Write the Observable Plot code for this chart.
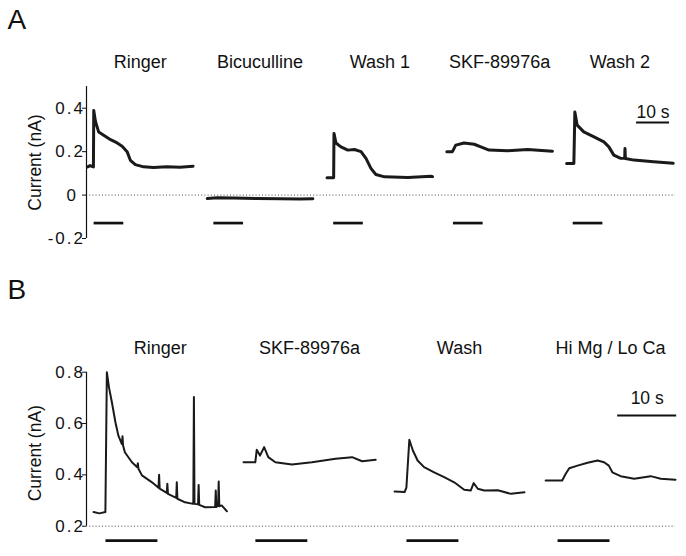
<!DOCTYPE html>
<html><head><meta charset="utf-8">
<script src="https://cdn.jsdelivr.net/npm/d3@7"></script>
<script src="https://cdn.jsdelivr.net/npm/@observablehq/plot@0.6"></script>
<style>
html,body{margin:0;padding:0;background:#fff;}
#root{position:relative;width:686px;height:556px;overflow:hidden;background:#fff;}
#root > svg{position:absolute;left:0;}
</style></head><body><div id="root"></div>
<script>
// ---------- Panel A data (time in s from trace start, current in nA) ----------
const titlesA = ["Ringer", "Bicuculline", "Wash 1", "SKF-89976a", "Wash 2"];
const aRinger = [[0,0.13],[0.8,0.136],[1.8,0.13],[1.9,0.39],[2.4,0.34],[3.4,0.29],[4.9,0.275],[7,0.255],[9,0.24],[10.5,0.225],[12,0.2],[13,0.16],[14.5,0.14],[17,0.13],[20,0.127],[24,0.13],[28,0.128],[32,0.133]];
const aBic = [[0,-0.016],[3,-0.012],[8,-0.013],[15,-0.016],[22,-0.017],[28,-0.018],[32,-0.017]];
const aWash1 = [[0,0.08],[2.0,0.08],[2.1,0.284],[2.7,0.24],[4.2,0.222],[6.3,0.207],[8.3,0.21],[10.3,0.2],[11.8,0.169],[13.3,0.123],[14.8,0.095],[17.4,0.084],[24.5,0.081],[31.5,0.087],[32,0.085]];
const aSkf = [[0,0.2],[1.7,0.2],[2.7,0.23],[5.2,0.24],[8.3,0.234],[10.3,0.222],[12.8,0.207],[18.4,0.204],[24.5,0.21],[32,0.202]];
const aWash2 = [[0,0.145],[2.2,0.145],[2.5,0.383],[3.2,0.322],[5.2,0.291],[8.3,0.268],[11.3,0.245],[12.8,0.222],[14.3,0.184],[16.4,0.169],[17.6,0.17],[17.7,0.215],[17.8,0.168],[20.4,0.161],[26.4,0.153],[32.3,0.146]];
const ticksA = [-0.2, 0, 0.2, 0.4];

// ---------- Panel B data ----------
const titlesB = ["Ringer", "SKF-89976a", "Wash", "Hi Mg / Lo Ca"];
const bRinger = [[0,0.255],[1.0,0.25],[2.0,0.255],[2.25,0.80],[2.6,0.742],[3.1,0.683],[3.7,0.605],[4.2,0.553],[4.8,0.52],[4.9,0.55],[5.0,0.514],[5.3,0.488],[6.5,0.449],[7.4,0.43],[7.5,0.445],[7.6,0.424],[8.2,0.398],[9.9,0.371],[11.0,0.35],[11.1,0.40],[11.2,0.346],[12.4,0.33],[12.5,0.365],[12.6,0.326],[14.0,0.31],[14.1,0.371],[14.2,0.307],[15.5,0.293],[16.9,0.287],[17.0,0.703],[17.1,0.287],[17.7,0.285],[17.8,0.361],[17.9,0.283],[18.9,0.274],[20.6,0.275],[20.7,0.339],[20.8,0.275],[21.1,0.28],[21.2,0.374],[21.3,0.278],[21.7,0.281],[22.6,0.258]];
const bSkf = [[0,0.449],[2.0,0.449],[2.25,0.498],[2.8,0.475],[3.5,0.508],[4.2,0.469],[5.4,0.449],[8.2,0.44],[11.6,0.449],[15.6,0.463],[18.4,0.469],[20.1,0.453],[22.4,0.459]];
const bWash = [[0,0.335],[1.7,0.333],[2.0,0.35],[2.5,0.537],[3.1,0.495],[3.9,0.456],[5.0,0.43],[6.7,0.41],[8.4,0.391],[10.1,0.371],[11.8,0.342],[12.9,0.339],[13.4,0.368],[14.1,0.346],[15.2,0.339],[17.5,0.34],[19.7,0.326],[22.0,0.332]];
const bHimg = [[0,0.378],[2.8,0.378],[3.4,0.404],[4.0,0.426],[5.4,0.436],[7.1,0.447],[8.8,0.456],[9.9,0.449],[10.7,0.436],[11.3,0.41],[12.7,0.395],[15.0,0.385],[17.8,0.395],[19.5,0.385],[22.0,0.381]];
const ticksB = [0.2, 0.4, 0.6, 0.8];

// stimulus (application) timing, s from trace start
const stimOnA = 2.0, stimDurA = 9;
const stimOnB = 2.1, stimDurB = 8.8;

// ---------- layout ----------
const FONT = '"Liberation Sans", Arial, Helvetica, sans-serif';
const offA = [0.3, 36.6, 72.9, 109.2, 145.5];   // trace start on shared time axis
const offB = [1.2, 26.6, 52.2, 77.8];

function rows(traces, offs) {
  return traces.flatMap((tr, k) => tr.map(([t, i]) => ({trace: k, t: offs[k] + t, i})));
}
const root = document.getElementById("root");

function panel({traces, offs, titles, ticks, yDomain, xMax, height, top, mTop, mBottom,
                stimOn, stimDur, stimY, titleY, barY, barX, barTextY, letter, sw, labelDy}) {
  const data = rows(traces, offs);
  const stim = offs.map(o => ({x1: o + stimOn, x2: o + stimOn + stimDur}));
  const nonZero = ticks.filter(d => d !== 0);
  const hasZero = ticks.includes(0);
  const p = Plot.plot({
    width: 686, height, marginLeft: 86, marginRight: 11, marginTop: mTop, marginBottom: mBottom,
    x: {domain: [0, xMax], axis: null, label: null},
    y: {domain: yDomain, axis: null, label: null},
    style: {fontFamily: FONT, fontSize: "17px", color: "#111", background: "transparent", overflow: "visible"},
    marks: [
      Plot.ruleY([yDomain[0] < 0 ? 0 : yDomain[0]], {x1: 0, x2: xMax, stroke: "#444", strokeDasharray: "1,2.2", strokeWidth: 1}),
      Plot.ruleX([0], {y1: yDomain[0], y2: yDomain[1], stroke: "#111", strokeWidth: 1.2}),
      Plot.axisY({ticks, tickSize: 4, tickFormat: () => "", label: null}),
      Plot.axisY({ticks: nonZero, tickSize: 0, tickPadding: 1.5, tickFormat: d => String(d), label: null}),
      ...(hasZero ? [Plot.axisY({ticks: [0], tickSize: 0, tickPadding: 1.5, dx: -7, tickFormat: d => String(d), label: null})] : []),
      Plot.text(["Current (nA)"], {frameAnchor: "left", rotate: -90, dx: -51.5, dy: labelDy, textAnchor: "middle", fontSize: 17.5}),
      Plot.line(data, {x: "t", y: "i", z: "trace", stroke: "#1a1a1a", strokeWidth: sw, strokeLinejoin: "round"}),
      Plot.ruleY(stim, {x1: "x1", x2: "x2", y: stimY, stroke: "#111", strokeWidth: 2.7}),
      Plot.text(titles, {x: (d, k) => offs[k] + (traces[k][traces[k].length - 1][0]) / 2, y: titleY, lineAnchor: "bottom", fontSize: 18}),
      Plot.ruleY([barY], {x1: barX[0], x2: barX[1], stroke: "#111", strokeWidth: 2}),
      Plot.text(["10 s"], {x: (barX[0] + barX[1]) / 2, y: barTextY, lineAnchor: "bottom", fontSize: 17.5}),
      Plot.text([letter], {frameAnchor: "top-left", dx: -79, dy: 28 - mTop, lineAnchor: "bottom", textAnchor: "start", fontSize: 28})
    ]
  });
  p.style.top = top + "px";
  d3.select(p).selectAll('g[aria-label="y-axis tick label"] text').style("letter-spacing", "2px");
  root.appendChild(p);
}

panel({traces: [aRinger, aBic, aWash1, aSkf, aWash2], offs: offA, titles: titlesA, ticks: ticksA,
  yDomain: [-0.2, 0.5], xMax: 178.5, height: 260, top: 0, mTop: 86, mBottom: 22,
  stimOn: stimOnA, stimDur: stimDurA, stimY: -0.129, titleY: 0.587,
  barY: 0.334, barX: [166.7, 176.7], barTextY: 0.354, letter: "A", sw: 3, labelDy: 0});

panel({traces: [bRinger, bSkf, bWash, bHimg], offs: offB, titles: titlesB, ticks: ticksB,
  yDomain: [0.2, 0.8], xMax: 99.8, height: 286, top: 270, mTop: 101.7, mBottom: 30.3,
  stimOn: stimOnB, stimDur: stimDurB, stimY: 0.144, titleY: 0.869,
  barY: 0.631, barX: [90, 100], barTextY: 0.677, letter: "B", sw: 2, labelDy: 4});
</script></body></html>
